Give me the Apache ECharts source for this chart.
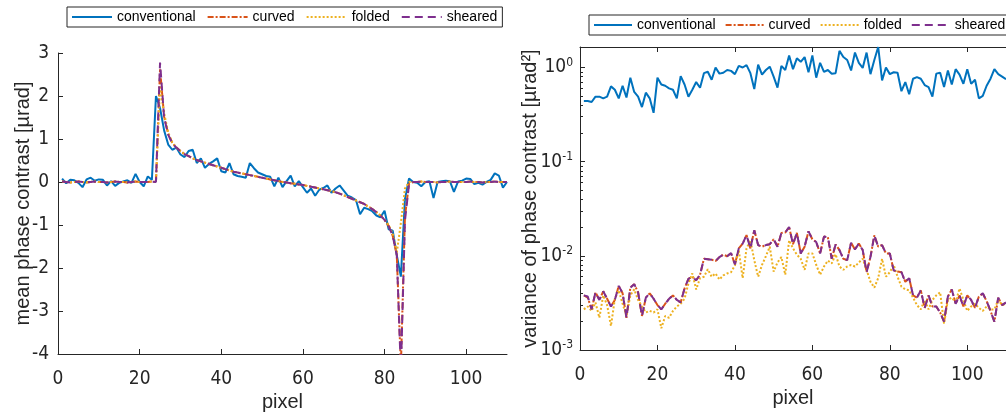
<!DOCTYPE html>
<html>
<head>
<meta charset="utf-8">
<script src="https://cdn.jsdelivr.net/npm/echarts@6/dist/echarts.min.js"></script>
<style>
html, body { margin: 0; padding: 0; background: #fff; }
#main { width: 1006px; height: 417px; }
</style>
</head>
<body>
<div id="main"></div>
<script>
// series names and ticks
const seriesNames = ['conventional', 'curved', 'folded', 'sheared'];
const xTicks = [0, 20, 40, 60, 80, 100];
const logMinorTicks = [
  0.002, 0.003, 0.004, 0.005, 0.006, 0.007, 0.008, 0.009,
  0.02, 0.03, 0.04, 0.05, 0.06, 0.07, 0.08, 0.09,
  0.2, 0.3, 0.4, 0.5, 0.6, 0.7, 0.8, 0.9
];

// mean phase contrast [µrad], pixel 1..110
const meanConventional = [
  0.08, -0.03, 0.05, 0.04, -0.02, -0.12, 0.06, 0.1, 0.03, 0.06,
  0.05, -0.08, 0.02, -0.09, -0.02, 0.01, 0.04, -0.02, 0.19, 0.0,
  -0.1, 0.13, 0.05, 2.0, 1.72, 1.2, 0.87, 0.75, 0.8, 0.64,
  0.58, 0.72, 0.75, 0.44, 0.55, 0.33, 0.42, 0.48, 0.55, 0.25,
  0.22, 0.44, 0.18, 0.14, 0.12, 0.1, 0.44, 0.32, 0.22, 0.18,
  0.14, 0.12, -0.1, 0.1, -0.12, 0.02, 0.15, -0.1, 0.02, -0.12,
  -0.25, -0.15, -0.32, -0.18, -0.14, -0.08, -0.25, -0.15, -0.08, -0.2,
  -0.32, -0.36, -0.42, -0.75, -0.6, -0.63, -0.68, -0.78, -0.82, -0.67,
  -1.1, -1.13, -1.7, -2.2, -0.4, 0.08, 0.0, -0.02, -0.1, 0.0,
  0.02, -0.37, 0.0, 0.02, 0.03, 0.02, -0.23, 0.01, 0.03, 0.08,
  0.07, -0.05, -0.02, -0.06, 0.0, 0.05, 0.2, 0.15, -0.13, 0.0
];
const meanCurved = [
  0.01, 0.0, -0.01, 0.0, 0.01, 0.0, -0.01, 0.0, 0.01, 0.0,
  0.0, -0.01, 0.0, 0.01, 0.0, 0.0, -0.01, 0.0, 0.01, 0.0,
  0.0, 0.0, 0.01, 0.0, 2.62, 1.52, 1.12, 0.91, 0.8, 0.72,
  0.65, 0.6, 0.55, 0.51, 0.48, 0.45, 0.42, 0.39, 0.36, 0.33,
  0.3, 0.27, 0.24, 0.22, 0.2, 0.18, 0.16, 0.14, 0.12, 0.1,
  0.08, 0.06, 0.04, 0.02, 0.0, -0.01, -0.03, -0.04, -0.06, -0.07,
  -0.09, -0.11, -0.13, -0.15, -0.17, -0.19, -0.21, -0.24, -0.27, -0.31,
  -0.35, -0.39, -0.43, -0.47, -0.51, -0.57, -0.63, -0.7, -0.78, -0.88,
  -1.02, -1.25, -1.7, -4.3, -0.8, -0.04, 0.0, 0.0, 0.01, 0.0,
  0.0, 0.0, -0.01, 0.0, 0.0, 0.01, 0.0, 0.0, 0.0, 0.0,
  0.01, 0.0, 0.0, -0.01, 0.0, 0.0, 0.01, 0.0, 0.0, 0.0
];
const meanFolded = [
  0.01, 0.0, -0.01, 0.0, 0.01, 0.0, -0.01, 0.0, 0.01, 0.0,
  0.0, -0.01, 0.0, 0.01, 0.0, 0.0, -0.01, 0.0, 0.01, 0.0,
  0.0, 0.0, 0.01, 0.0, 2.2, 1.6, 1.15, 0.92, 0.8, 0.72,
  0.65, 0.6, 0.55, 0.51, 0.48, 0.45, 0.42, 0.39, 0.36, 0.33,
  0.3, 0.27, 0.24, 0.22, 0.2, 0.18, 0.16, 0.14, 0.12, 0.1,
  0.08, 0.06, 0.04, 0.02, 0.0, -0.01, -0.03, -0.04, -0.06, -0.07,
  -0.09, -0.11, -0.13, -0.15, -0.17, -0.19, -0.21, -0.24, -0.27, -0.31,
  -0.35, -0.39, -0.43, -0.47, -0.51, -0.57, -0.63, -0.7, -0.78, -0.88,
  -1.0, -1.2, -1.65, -0.95, -0.15, 0.0, 0.0, 0.0, 0.01, 0.0,
  0.0, 0.0, -0.01, 0.0, 0.0, 0.01, 0.0, 0.0, 0.0, 0.0,
  0.01, 0.0, 0.0, -0.01, 0.0, 0.0, 0.01, 0.0, 0.0, 0.0
];
const meanSheared = [
  0.01, 0.0, -0.01, 0.0, 0.01, 0.0, -0.01, 0.0, 0.01, 0.0,
  0.0, -0.01, 0.0, 0.01, 0.0, 0.0, -0.01, 0.0, 0.01, 0.0,
  0.0, 0.0, 0.01, 0.0, 2.78, 1.5, 1.1, 0.9, 0.8, 0.72,
  0.65, 0.6, 0.55, 0.51, 0.48, 0.45, 0.42, 0.39, 0.36, 0.33,
  0.3, 0.27, 0.24, 0.22, 0.2, 0.18, 0.16, 0.14, 0.12, 0.1,
  0.08, 0.06, 0.04, 0.02, 0.0, -0.01, -0.03, -0.04, -0.06, -0.07,
  -0.09, -0.11, -0.13, -0.15, -0.17, -0.19, -0.21, -0.24, -0.27, -0.31,
  -0.35, -0.39, -0.43, -0.47, -0.51, -0.57, -0.63, -0.7, -0.78, -0.88,
  -1.02, -1.25, -1.7, -4.4, -0.9, -0.05, 0.0, 0.0, 0.01, 0.0,
  0.0, 0.0, -0.01, 0.0, 0.0, 0.01, 0.0, 0.0, 0.0, 0.0,
  0.01, 0.0, 0.0, -0.01, 0.0, 0.0, 0.01, 0.0, 0.0, 0.0
];

// variance of phase contrast [µrad²], pixel 1..110
const varConventional = [
  0.44, 0.44, 0.43, 0.49, 0.49, 0.47, 0.49, 0.63, 0.58, 0.47,
  0.64, 0.48, 0.78, 0.55, 0.49, 0.38, 0.54, 0.47, 0.33, 0.78,
  0.66, 0.64, 0.6, 0.58, 0.47, 0.81, 0.66, 0.49, 0.58, 0.7,
  0.61, 0.87, 0.9, 0.74, 1.0, 0.86, 0.88, 0.94, 0.92, 0.85,
  1.04, 1.0, 1.06, 0.87, 0.59, 1.07, 0.84, 0.94, 1.02, 0.8,
  0.61, 1.04, 0.94, 1.34, 0.96, 1.25, 1.15, 1.29, 0.89, 1.34,
  0.78, 1.12, 0.9, 0.94, 0.86, 0.87, 1.5, 1.29, 1.2, 0.93,
  1.44, 1.12, 0.99, 1.44, 0.85, 1.2, 1.65, 0.73, 1.0, 0.85,
  0.89, 0.88, 0.56, 0.7, 0.52, 0.76, 0.79, 0.76, 0.65, 0.62,
  0.49, 0.86, 0.88, 0.62, 0.93, 0.66, 0.96, 0.84, 0.67, 0.96,
  0.67, 0.74, 0.47, 0.5, 0.64, 0.76, 0.96, 0.85, 0.8, 0.75
];
const varCurved = [
  0.0038, 0.0036, 0.0027, 0.0041, 0.0034, 0.0042, 0.0035, 0.0029, 0.0034, 0.0048,
  0.004, 0.0022, 0.0046, 0.005, 0.0041, 0.0023, 0.0036, 0.004, 0.0035, 0.003,
  0.0027, 0.0031, 0.0035, 0.0038, 0.0034, 0.0032, 0.0045, 0.0057, 0.006, 0.0055,
  0.0063, 0.0093, 0.0092, 0.0091, 0.0088, 0.0097, 0.0103, 0.0099, 0.0107, 0.0081,
  0.012, 0.0135, 0.0166, 0.012, 0.0187, 0.013, 0.0125, 0.013, 0.0133, 0.015,
  0.0125, 0.0175, 0.0177, 0.0202, 0.0133, 0.0175, 0.0106, 0.0125, 0.0182, 0.015,
  0.014, 0.0106, 0.016, 0.0158, 0.0093, 0.0132, 0.0115, 0.0093, 0.009, 0.0138,
  0.0117, 0.0135, 0.0115, 0.0067, 0.0097, 0.0165, 0.0125, 0.013, 0.0106, 0.0106,
  0.007, 0.0068, 0.0067, 0.0053, 0.0058, 0.0038, 0.0036, 0.0043, 0.0028, 0.0038,
  0.0029, 0.0029, 0.0025, 0.002, 0.0037, 0.0044, 0.0031, 0.0038, 0.0029, 0.0038,
  0.0034, 0.0028, 0.0037, 0.004, 0.0033, 0.0026, 0.002, 0.0036, 0.003, 0.0032
];
const varFolded = [
  0.0027, 0.0029, 0.0026, 0.0032, 0.0022, 0.0038, 0.003, 0.0018, 0.0035, 0.0043,
  0.0031, 0.0023, 0.0038, 0.0044, 0.0034, 0.0029, 0.0025, 0.0026, 0.0025, 0.0027,
  0.0017, 0.0023, 0.0022, 0.0026, 0.0029, 0.0031, 0.0035, 0.0051, 0.0065, 0.0044,
  0.0058, 0.006, 0.0072, 0.006, 0.0065, 0.0056, 0.0062, 0.0065, 0.0067, 0.0079,
  0.0114, 0.0058, 0.012, 0.0146, 0.009, 0.006, 0.008, 0.0099, 0.0125, 0.0068,
  0.0085, 0.0097, 0.0063, 0.0146, 0.012, 0.0103, 0.0093, 0.0071, 0.0106, 0.0106,
  0.008, 0.0063, 0.0077, 0.0089, 0.0083, 0.0104, 0.0077, 0.0071, 0.0077, 0.008,
  0.0077, 0.0085, 0.0093, 0.0071, 0.0053, 0.0046, 0.0058, 0.0093, 0.006, 0.0067,
  0.008, 0.006, 0.0047, 0.0044, 0.0043, 0.0036, 0.003, 0.0027, 0.0034, 0.0027,
  0.0034, 0.0038, 0.0041, 0.0019, 0.0034, 0.0036, 0.0032, 0.0045, 0.0034, 0.0026,
  0.0029, 0.0031, 0.0028, 0.0026, 0.0029, 0.0027, 0.0027, 0.0034, 0.003, 0.0031
];
const varSheared = [
  0.0038, 0.0037, 0.0027, 0.0041, 0.0034, 0.0042, 0.0035, 0.0029, 0.0034, 0.0048,
  0.004, 0.0022, 0.0046, 0.005, 0.0041, 0.0023, 0.0036, 0.004, 0.0035, 0.003,
  0.0027, 0.0031, 0.0035, 0.0038, 0.0034, 0.0032, 0.0045, 0.0057, 0.006, 0.0055,
  0.0063, 0.0093, 0.0092, 0.0091, 0.0088, 0.0097, 0.0103, 0.0099, 0.0107, 0.0081,
  0.012, 0.0135, 0.0166, 0.012, 0.0187, 0.013, 0.0125, 0.013, 0.0133, 0.015,
  0.0125, 0.0175, 0.0177, 0.0202, 0.0133, 0.0175, 0.0106, 0.0125, 0.0182, 0.015,
  0.014, 0.0106, 0.016, 0.0158, 0.0093, 0.0132, 0.0115, 0.0093, 0.009, 0.0138,
  0.0117, 0.0135, 0.0115, 0.0067, 0.0097, 0.0165, 0.0125, 0.013, 0.0106, 0.0106,
  0.007, 0.0068, 0.0067, 0.0053, 0.0058, 0.0038, 0.0036, 0.0043, 0.0028, 0.0038,
  0.0029, 0.0029, 0.0025, 0.002, 0.0037, 0.0044, 0.0031, 0.0038, 0.0029, 0.0038,
  0.0034, 0.0028, 0.0037, 0.004, 0.0033, 0.0026, 0.002, 0.0036, 0.003, 0.0032
];

const colors = ['#0072BD', '#D95319', '#EDB120', '#7E2F8E'];
const dashes = ['solid', [6, 2, 2, 2], [2, 2], [8, 5]];
const axisColor = '#262626';
const tickFont = "'Liberation Sans Narrow', 'DejaVu Sans Condensed', 'Liberation Sans', sans-serif";
const textFont = "'Liberation Sans', Arial, sans-serif";

const pixels = [];
for (let i = 1; i <= meanConventional.length; i++) pixels.push(i);

function lineSeries(name, vals, k, gi) {
  return {
    name: name,
    type: 'line',
    xAxisIndex: gi === 0 ? 0 : 1,
    yAxisIndex: gi,
    data: vals.map((v, i) => [pixels[i], v]),
    symbol: 'none',
    showSymbol: false,
    clip: true,
    lineStyle: { color: colors[k], width: 2, type: dashes[k] },
    itemStyle: { color: colors[k] },
    emphasis: { disabled: true }
  };
}

function xAxisBase(gi) {
  return {
    type: 'value',
    gridIndex: gi,
    min: 0,
    max: 110,
    axisLine: { onZero: false, lineStyle: { color: axisColor, width: 1 } },
    axisTick: { inside: true, length: 5, customValues: xTicks, lineStyle: { color: axisColor } },
    axisLabel: { customValues: xTicks, fontSize: 19, fontFamily: tickFont, color: axisColor, margin: 16 },
    splitLine: { show: false },
    name: 'pixel',
    nameLocation: 'middle',
    nameGap: 38,
    nameMoveOverlap: false,
    nameTextStyle: { fontSize: 20, fontFamily: textFont, color: axisColor }
  };
}

function legendBase(left, top, iw, gap) {
  return {
    data: seriesNames,
    left: left,
    top: top,
    width: 440,
    orient: 'horizontal',
    itemWidth: iw,
    itemHeight: 14,
    itemGap: gap,
    padding: [3, 5, 3, 4],
    borderColor: axisColor,
    borderWidth: 1,
    borderRadius: 0,
    backgroundColor: '#fff',
    selectedMode: false,
    itemStyle: { opacity: 0, borderWidth: 0 },
    lineStyle: { width: 2 },
    textStyle: { fontSize: 14, fontFamily: textFont, color: '#000' }
  };
}

const chart = echarts.init(document.getElementById('main'));

const xTop = xAxisBase(1);
xTop.position = 'top';
xTop.axisLabel = { show: false };
xTop.name = '';

chart.setOption({
  animation: false,
  color: colors,
  legend: [legendBase(67, 7, 40, 11), legendBase(589, 15, 38, 9)],
  grid: [
    { left: 58, top: 53, width: 449, height: 302 },
    { left: 580, top: 47, width: 434, height: 303 }
  ],
  xAxis: [xAxisBase(0), xAxisBase(1), xTop],
  yAxis: [
    {
      type: 'value',
      gridIndex: 0,
      min: -4,
      max: 3,
      interval: 1,
      axisLine: { show: true, lineStyle: { color: axisColor, width: 1 } },
      axisTick: { show: true, inside: true, length: 5, lineStyle: { color: axisColor } },
      axisLabel: { fontSize: 19, fontFamily: tickFont, color: axisColor, margin: 9 },
      splitLine: { show: false },
      name: 'mean phase contrast [µrad]',
      nameLocation: 'middle',
      nameGap: 25,
      nameMoveOverlap: false,
      nameTextStyle: { fontSize: 20, fontFamily: textFont, color: axisColor }
    },
    {
      type: 'log',
      logBase: 10,
      gridIndex: 1,
      min: 0.001,
      max: 1.65,
      axisLine: { show: true, lineStyle: { color: axisColor, width: 1 } },
      axisTick: { show: true, inside: true, length: 5, lineStyle: { color: axisColor } },
      axisLabel: {
        showMaxLabel: false,
        margin: 7,
        color: axisColor,
        formatter: function (v) {
          const e = Math.round(Math.log10(v));
          return '{b|10}{e|' + e + '}';
        },
        rich: {
          b: { fontSize: 19, fontFamily: tickFont, color: axisColor },
          e: { fontSize: 12, fontFamily: tickFont, color: axisColor, padding: [0, 0, 10, 0] }
        }
      },
      splitLine: { show: false },
      name: 'variance of phase contrast [µrad²]',
      nameLocation: 'middle',
      nameGap: 40,
      nameMoveOverlap: false,
      nameTextStyle: { fontSize: 20, fontFamily: textFont, color: axisColor }
    },
    {
      // minor ticks of the log axis
      type: 'log',
      logBase: 10,
      gridIndex: 1,
      position: 'left',
      min: 0.001,
      max: 1.65,
      axisLine: { show: false },
      axisTick: { show: true, inside: true, length: 3, customValues: logMinorTicks, lineStyle: { color: axisColor } },
      axisLabel: { show: false },
      splitLine: { show: false }
    }
  ],
  series: [
    lineSeries(seriesNames[0], meanConventional, 0, 0),
    lineSeries(seriesNames[1], meanCurved, 1, 0),
    lineSeries(seriesNames[2], meanFolded, 2, 0),
    lineSeries(seriesNames[3], meanSheared, 3, 0),
    lineSeries(seriesNames[0], varConventional, 0, 1),
    lineSeries(seriesNames[1], varCurved, 1, 1),
    lineSeries(seriesNames[2], varFolded, 2, 1),
    lineSeries(seriesNames[3], varSheared, 3, 1)
  ]
});
</script>
</body>
</html>
